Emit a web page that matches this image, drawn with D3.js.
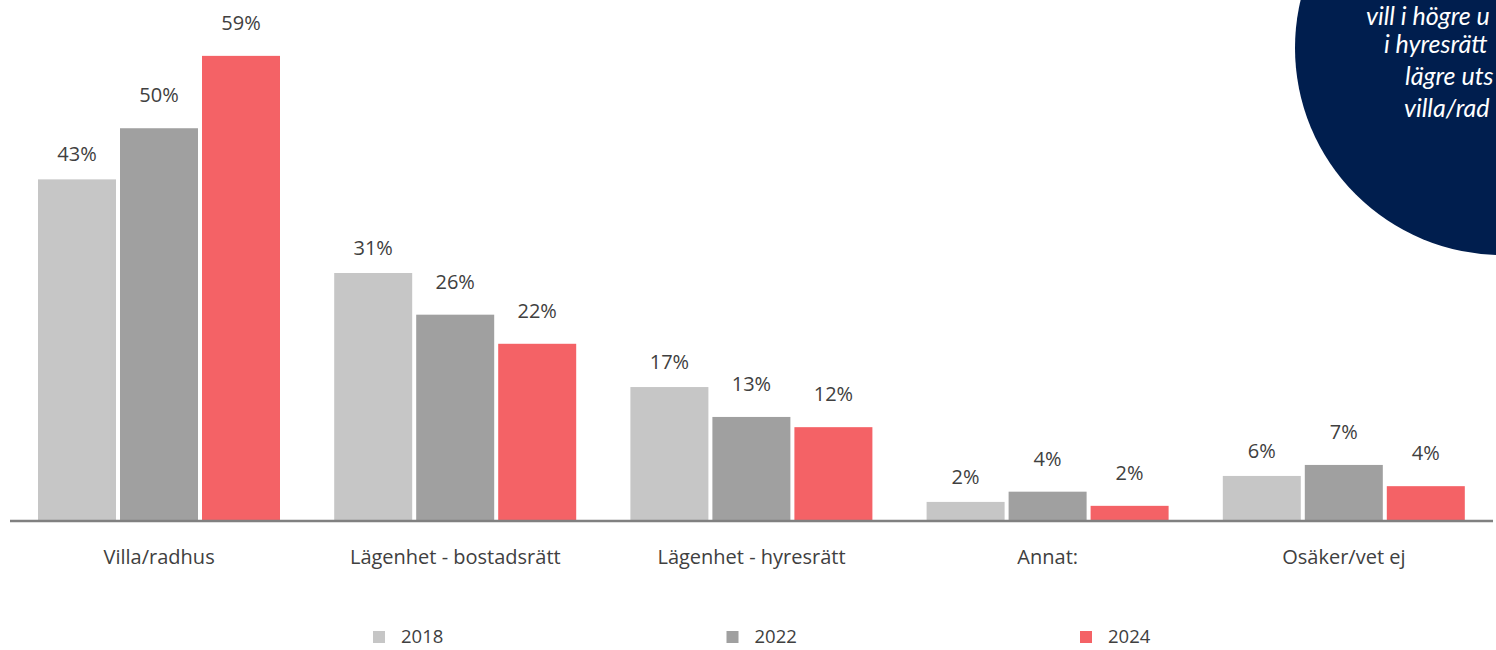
<!DOCTYPE html>
<html>
<head>
<meta charset="utf-8">
<script src="https://cdn.jsdelivr.net/npm/d3@7"></script>
<style>
  html, body { margin: 0; padding: 0; background: #fff; overflow: hidden; }
  svg { display: block; }
</style>
</head>
<body>
<div id="chart"></div>
<script>
// data
const categories = ["Villa/radhus", "Lägenhet - bostadsrätt", "Lägenhet - hyresrätt", "Annat:", "Osäker/vet ej"];
const years = ["2018", "2022", "2024"];
const values2018 = [43.3, 31.4, 16.9, 2.3, 5.6];
const values2022 = [49.8, 26.1, 13.1, 3.6, 7.0];
const values2024 = [59.0, 22.4, 11.8, 1.8, 4.3];
const yTicks = [0, 60];
// only the part of the bubble text that shows inside the page
const bubbleLines = ["vill i högre u", "i hyresrätt", "lägre uts", "villa/rad"];

const seriesValues = { "2018": values2018, "2022": values2022, "2024": values2024 };
const colors = { "2018": "#c6c6c6", "2022": "#a0a0a0", "2024": "#f46266" };
// 2018 labels sit a bit closer to their bars in the original
const labelGap = { "2018": 18, "2022": 26, "2024": 26 };

const width = 1496, height = 650;
const svg = d3.select("#chart").append("svg")
    .attr("width", width)
    .attr("height", height);

const font = "'Open Sans', 'Noto Sans', sans-serif";

const x0 = d3.scaleBand()
    .domain(categories)
    .range([11, 1492])
    .padding(0);

const x1 = d3.scaleBand()
    .domain(years)
    .range([27, 269])
    .paddingInner(4 / 82)
    .paddingOuter(0);

const y = d3.scaleLinear()
    .domain(d3.extent(yTicks))
    .range([520, 48]);

// bars
const groups = svg.append("g")
    .selectAll("g")
    .data(categories)
    .enter().append("g")
    .attr("transform", d => `translate(${x0(d)},0)`);

groups.selectAll("rect")
    .data((c, i) => years.map(yr => ({ year: yr, value: seriesValues[yr][i] })))
    .enter().append("rect")
    .attr("x", d => x1(d.year))
    .attr("y", d => y(d.value))
    .attr("width", x1.bandwidth())
    .attr("height", d => y(0) - y(d.value))
    .attr("fill", d => colors[d.year]);

groups.selectAll("text")
    .data((c, i) => years.map(yr => ({ year: yr, value: seriesValues[yr][i] })))
    .enter().append("text")
    .attr("x", d => x1(d.year) + x1.bandwidth() / 2)
    .attr("y", d => y(d.value) - labelGap[d.year])
    .attr("text-anchor", "middle")
    .attr("font-family", font)
    .attr("font-size", 20)
    .attr("fill", "#404040")
    .text(d => d3.format(".0f")(d.value) + "%");

// category axis
const xAxis = svg.append("g")
    .attr("transform", `translate(0,${y(0)})`)
    .call(d3.axisBottom(x0).tickSize(0).tickPadding(30));

xAxis.select(".domain")
    .attr("stroke", "#808080")
    .attr("stroke-width", 2.5)
    .attr("d", "M10,1H1493");

xAxis.selectAll("text")
    .attr("font-family", font)
    .attr("font-size", 20)
    .attr("fill", "#404040");

// legend
const legendX = d3.scalePoint()
    .domain(years)
    .range([373, 1080]);

const legend = svg.append("g")
    .selectAll("g")
    .data(years)
    .enter().append("g")
    .attr("transform", d => `translate(${legendX(d)},631)`);

legend.append("rect")
    .attr("width", 12)
    .attr("height", 12)
    .attr("fill", d => colors[d]);

legend.append("text")
    .attr("x", 28)
    .attr("y", 6)
    .attr("dy", "0.35em")
    .attr("font-family", font)
    .attr("font-size", 18.5)
    .attr("fill", "#404040")
    .text(d => d);

// navy speech bubble in the corner
svg.append("circle")
    .attr("cx", 1502)
    .attr("cy", 48)
    .attr("r", 207)
    .attr("fill", "#001e4e");

const bubbleX = [1366, 1384, 1405, 1404];
const bubbleY = [25, 53, 85, 117];
svg.append("g")
    .selectAll("text")
    .data(bubbleLines)
    .enter().append("text")
    .attr("x", (d, i) => bubbleX[i])
    .attr("y", (d, i) => bubbleY[i])
    .attr("font-family", "Lato, 'Open Sans', sans-serif")
    .attr("font-style", "italic")
    .attr("font-size", 25)
    .attr("fill", "#ffffff")
    .text(d => d);
</script>
</body>
</html>
